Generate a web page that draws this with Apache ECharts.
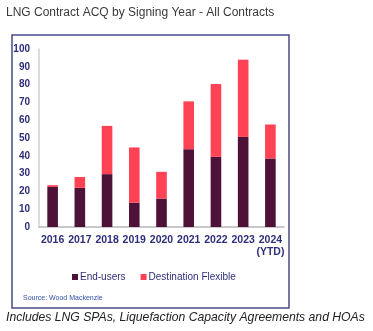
<!DOCTYPE html>
<html><head><meta charset="utf-8">
<script src="https://cdn.jsdelivr.net/npm/echarts@6/dist/echarts.min.js"></script>
<style>html,body{margin:0;padding:0;background:#fff}#c{width:373px;height:331px}</style>
</head><body><div id="c"></div>
<script>
var categories = ['2016','2017','2018','2019','2020','2021','2022','2023','2024\n(YTD)'];
var endUsers = [22.5, 22, 29.7, 13.7, 16, 43.7, 39.4, 50.6, 38.5];
var destFlexible = [1, 6.1, 27.1, 31, 15, 26.9, 40.9, 43.4, 19.1];
var yTicks = [0,10,20,30,40,50,60,70,80,90,100];

var navy = '#2e2e7a';
var chart = echarts.init(document.getElementById('c'));
chart.setOption({
  animation: false,
  backgroundColor: '#fff',
  graphic: [
    {type:'rect', shape:{x:12, y:35, width:277, height:273}, style:{fill:'none', stroke:'#4a4a8c', lineWidth:1.5}, z:-1},
    {type:'text', left:6, top:7, style:{text:'LNG Contract ACQ by Signing Year - All Contracts', font:'12px "Liberation Sans", Arial, sans-serif', fill:'#3a3a3a'}},
    {type:'text', left:23, top:295, style:{text:'Source: Wood Mackenzie', font:'7px "Liberation Sans", Arial, sans-serif', fill:'#3050a8'}},
    {type:'text', left:6, top:312, style:{text:'Includes LNG SPAs, Liquefaction Capacity Agreements and HOAs', font:'italic 12.2px "Liberation Sans", Arial, sans-serif', fill:'#222'}}
  ],
  legend: {
    top: 267, left: 67,
    itemWidth: 6, itemHeight: 6, itemGap: 15,
    icon: 'rect',
    textStyle: {color: navy, fontSize: 10, fontFamily: '"Liberation Sans", Arial, sans-serif', padding:[0,0,0,-3]},
    data: ['End-users','Destination Flexible']
  },
  grid: {left: 39, right: 89, top: 49, bottom: 104},
  xAxis: {
    type: 'category', data: categories,
    axisLine: {lineStyle: {color: '#b8b8b8', width: 1.5}},
    axisTick: {show: false},
    axisLabel: {color: navy, fontWeight: 'bold', fontSize: 10.5, margin: 7, lineHeight: 12, fontFamily: '"Liberation Sans", Arial, sans-serif', interval: 0}
  },
  yAxis: {
    type: 'value', min: 0, max: 100, interval: 10,
    axisLine: {show: true, lineStyle: {color: '#d0d0d0', width: 1.5}},
    axisTick: {show: false},
    splitLine: {show: false},
    axisLabel: {color: navy, fontWeight: 'bold', fontSize: 10, margin: 9, fontFamily: '"Liberation Sans", Arial, sans-serif',
      formatter: function(v){ return yTicks.indexOf(v) >= 0 ? String(v) : ''; }}
  },
  series: [
    {name:'End-users', type:'bar', stack:'a', data:endUsers, barWidth:'39%', itemStyle:{color:'#4e1239'}},
    {name:'Destination Flexible', type:'bar', stack:'a', data:destFlexible, barWidth:'39%', itemStyle:{color:'#ff4254'}}
  ]
});
</script></body></html>
